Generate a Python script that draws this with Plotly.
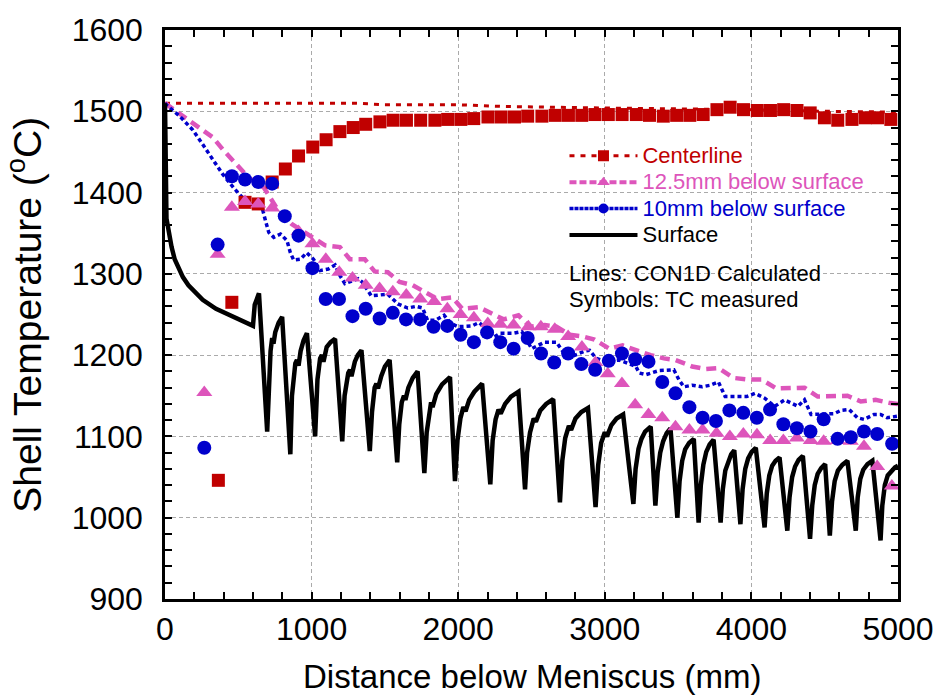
import plotly.graph_objects as go

# ---------------- data ----------------
# CON1D calculated centreline
cl_x = [0, 500, 1000, 1300, 1500, 2000, 2300, 2600, 3000, 3500, 4000, 4500, 5000]
cl_t = [1510, 1510, 1510, 1510, 1508, 1508, 1506, 1505, 1504, 1503, 1502, 1500, 1499]

# CON1D calculated 12.5 mm below surface
p_x = [0, 111, 217, 325, 404, 499, 573, 675, 776, 866, 1001, 1092, 1193, 1261, 1363, 1430, 1520,
       1600, 1690, 1769, 1859, 1960, 2028, 2141, 2219, 2310, 2411, 2490, 2591, 2670, 2761, 2851,
       2930, 3031, 3122, 3212, 3313, 3403, 3483, 3596, 3686, 3775, 3877, 3978, 4069, 4170, 4272,
       4362, 4452, 4554, 4655, 4746, 4847, 4948, 5000]
p_t = [1510, 1496, 1483, 1468, 1451, 1433, 1418, 1406, 1377, 1361, 1345, 1335, 1333, 1318, 1318,
       1303, 1302, 1290, 1286, 1278, 1269, 1271, 1257, 1259, 1252, 1244, 1249, 1235, 1237, 1235,
       1225, 1223, 1219, 1208, 1212, 1206, 1200, 1196, 1194, 1186, 1183, 1184, 1172, 1170, 1170,
       1159, 1159, 1160, 1149, 1149, 1150, 1143, 1145, 1141, 1140]

# CON1D calculated 10 mm below surface
b_x = [0, 9, 100, 190, 258, 325, 392, 472, 528, 596, 663, 686, 708, 742, 788, 832, 855, 878, 923,
       967, 1013, 1058, 1114, 1160, 1193, 1227, 1317, 1345, 1407, 1464, 1520, 1588, 1656, 1712,
       1757, 1791, 1847, 1904, 1949, 2000, 2095, 2141, 2197, 2242, 2287, 2378, 2434, 2501, 2591,
       2670, 2716, 2772, 2862, 2896, 2941, 3009, 3099, 3212, 3235, 3280, 3370, 3471, 3505, 3539,
       3596, 3663, 3720, 3775, 3821, 3889, 3968, 4024, 4091, 4159, 4227, 4317, 4362, 4407, 4475,
       4565, 4610, 4667, 4723, 4768, 4836, 4881, 4926, 5000]
b_t = [1510, 1508, 1494, 1477, 1459, 1440, 1423, 1405, 1394, 1385, 1381, 1365, 1351, 1345, 1349,
       1341, 1326, 1317, 1318, 1326, 1318, 1304, 1306, 1311, 1298, 1288, 1294, 1290, 1273, 1274,
       1275, 1263, 1258, 1260, 1258, 1243, 1243, 1249, 1239, 1235, 1236, 1240, 1232, 1222, 1227,
       1227, 1229, 1208, 1216, 1216, 1204, 1198, 1205, 1206, 1196, 1192, 1194, 1186, 1178, 1176,
       1181, 1182, 1170, 1161, 1163, 1161, 1163, 1167, 1149, 1149, 1149, 1153, 1147, 1137, 1145,
       1137, 1145, 1127, 1127, 1128, 1132, 1133, 1123, 1121, 1127, 1127, 1123, 1125]

# CON1D calculated surface
s_x = [0, 3, 6, 10, 20, 32, 45, 66, 90, 122, 160, 190, 257, 348, 438, 517, 600,
       612, 628, 641,
       697, 708, 720, 731, 740, 752, 775, 799,
       855, 866, 878, 889, 900, 911, 925, 945, 968,
       1024, 1040, 1058, 1070, 1081, 1103, 1130, 1160,
       1209, 1225, 1250, 1262, 1272, 1295, 1315, 1340,
       1397, 1412, 1430, 1442, 1453, 1475, 1500, 1532,
       1584, 1598, 1615, 1630, 1640, 1660, 1690, 1723,
       1769, 1785, 1802, 1815, 1825, 1850, 1890, 1944,
       1978, 1995, 2015, 2035, 2050, 2075, 2110, 2163,
       2219, 2235, 2255, 2275, 2290, 2320, 2360, 2411,
       2456, 2470, 2490, 2515, 2530, 2560, 2600, 2648,
       2694, 2710, 2730, 2755, 2770, 2800, 2840, 2885,
       2937, 2955, 2975, 3000, 3015, 3045, 3080, 3125,
       3195, 3210, 3230, 3250, 3275, 3313,
       3345, 3360, 3378, 3398, 3422, 3448,
       3495, 3510, 3528, 3548, 3575, 3607,
       3640, 3655, 3672, 3692, 3715, 3742,
       3790, 3805, 3822, 3842, 3862, 3883,
       3925, 3940, 3958, 3978, 4002, 4030,
       4090, 4105, 4122, 4142, 4165, 4192,
       4245, 4260, 4278, 4298, 4322, 4351,
       4400, 4415, 4432, 4452, 4476, 4503,
       4535, 4550, 4568, 4590, 4620, 4655,
       4712, 4725, 4743, 4763, 4792, 4825,
       4881, 4893, 4910, 4930, 4955, 4980, 5000]
s_t = [1510, 1450, 1385, 1368, 1358, 1345, 1333, 1318, 1307, 1296, 1286, 1280, 1268, 1257, 1249, 1242, 1236,
       1262, 1270, 1276,
       1106, 1175, 1205, 1221, 1214, 1228, 1240, 1247,
       1078, 1150, 1178, 1190, 1194, 1187, 1205, 1218, 1227,
       1100, 1170, 1196, 1200, 1192, 1210, 1216, 1220,
       1094, 1150, 1178, 1182, 1174, 1192, 1200, 1206,
       1082, 1130, 1160, 1165, 1159, 1174, 1186, 1194,
       1068, 1115, 1142, 1150, 1145, 1160, 1172, 1180,
       1055, 1105, 1131, 1142, 1136, 1152, 1164, 1173,
       1045, 1095, 1122, 1136, 1131, 1145, 1155, 1165,
       1041, 1095, 1121, 1133, 1128, 1140, 1149, 1155,
       1035, 1080, 1105, 1122, 1118, 1132, 1140, 1146,
       1019, 1070, 1098, 1113, 1108, 1122, 1130, 1135,
       1013, 1065, 1092, 1105, 1100, 1114, 1122, 1127,
       1017, 1060, 1085, 1097, 1106, 1112,
       1015, 1055, 1080, 1094, 1104, 1110,
       1000, 1045, 1070, 1084, 1092, 1097,
       994, 1040, 1065, 1081, 1090, 1096,
       994, 1035, 1058, 1070, 1078, 1083,
       992, 1035, 1060, 1073, 1081, 1086,
       988, 1030, 1052, 1064, 1070, 1074,
       984, 1025, 1050, 1063, 1071, 1076,
       974, 1015, 1040, 1054, 1061, 1066,
       978, 1020, 1045, 1058, 1065, 1070,
       984, 1025, 1048, 1059, 1066, 1070,
       972, 1015, 1040, 1052, 1058, 1062, 1064]

# TC measured: centreline (squares)
sq_x = [364, 456, 546, 636, 731, 821, 911, 1008, 1099, 1193, 1284, 1369, 1466, 1556, 1647, 1744,
        1841, 1928, 2018, 2106, 2203, 2293, 2384, 2474, 2571, 2662, 2752, 2843, 2933, 3024, 3118,
        3215, 3305, 3399, 3490, 3580, 3671, 3765, 3855, 3946, 4040, 4130, 4220, 4311, 4401, 4498,
        4589, 4686, 4776, 4860, 4951]
sq_t = [1046, 1265, 1388, 1386, 1413, 1429, 1445, 1456, 1465, 1475, 1480, 1484, 1487, 1489, 1489,
        1489, 1489, 1490, 1490, 1491, 1493, 1493, 1493, 1494, 1494, 1495, 1495, 1495, 1496, 1496,
        1496, 1496, 1495, 1494, 1495, 1495, 1496, 1502, 1505, 1502, 1501, 1501, 1502, 1501, 1498,
        1492, 1489, 1490, 1492, 1492, 1490]

# TC measured: 12.5 mm below surface (triangles)
tr_x = [268, 359, 456, 546, 636, 731, 911, 1006, 1097, 1189, 1279, 1369, 1464, 1554, 1646, 1741,
        1836, 1926, 2016, 2107, 2202, 2287, 2378, 2479, 2564, 2659, 2750, 2844, 2936, 3020, 3117,
        3207, 3298, 3392, 3482, 3577, 3667, 3762, 3853, 3945, 4038, 4128, 4218, 4310, 4405, 4493,
        4588, 4678, 4768, 4858, 4958]
tr_t = [1154, 1324, 1382, 1389, 1386, 1381, 1352, 1337, 1318, 1302, 1295, 1286, 1282, 1278, 1274,
        1269, 1266, 1257, 1250, 1246, 1239, 1238, 1237, 1235, 1235, 1232, 1223, 1210, 1191, 1177,
        1165, 1139, 1127, 1123, 1112, 1108, 1108, 1104, 1100, 1103, 1102, 1095, 1095, 1098, 1095,
        1094, 1095, 1094, 1088, 1063, 1039]

# TC measured: 10 mm below surface (circles)
ci_x = [268, 359, 456, 546, 636, 731, 817, 911, 1006, 1096, 1187, 1279, 1369, 1464, 1554, 1644,
        1741, 1832, 1926, 2016, 2107, 2197, 2287, 2378, 2474, 2565, 2655, 2750, 2840, 2934, 3027,
        3117, 3207, 3298, 3392, 3482, 3577, 3667, 3758, 3850, 3945, 4037, 4127, 4218, 4310, 4403,
        4493, 4588, 4678, 4768, 4858, 4960]
ci_t = [1086, 1336, 1420, 1416, 1413, 1411, 1371, 1347, 1307, 1269, 1269, 1248, 1257, 1245, 1252,
        1244, 1244, 1235, 1236, 1225, 1216, 1228, 1216, 1208, 1221, 1202, 1191, 1202, 1189, 1182,
        1193, 1202, 1195, 1192, 1167, 1153, 1136, 1123, 1119, 1132, 1129, 1123, 1133, 1115, 1110,
        1106, 1121, 1097, 1099, 1106, 1103, 1091]

x_ticks = [0, 1000, 2000, 3000, 4000, 5000]
y_ticks = [900, 1000, 1100, 1200, 1300, 1400, 1500, 1600]

RED = "#C00000"
PINK = "#DD55BB"
BLUE = "#0000CC"
BLACK = "#000000"
FONT = "Liberation Sans, Arial, sans-serif"

fig = go.Figure()

# calculated lines
fig.add_trace(go.Scatter(x=cl_x, y=cl_t, mode="lines", showlegend=False,
                         line=dict(color=RED, width=3, dash="5px,6px")))
fig.add_trace(go.Scatter(x=p_x, y=p_t, mode="lines", showlegend=False,
                         line=dict(color=PINK, width=4.5, dash="10px,6px")))
fig.add_trace(go.Scatter(x=b_x, y=b_t, mode="lines", showlegend=False,
                         line=dict(color=BLUE, width=3.5, dash="4px,3px")))
fig.add_trace(go.Scatter(x=s_x, y=s_t, mode="lines", showlegend=False,
                         line=dict(color=BLACK, width=4.5)))

# measured symbols
fig.add_trace(go.Scatter(x=sq_x, y=sq_t, mode="markers", showlegend=False,
                         marker=dict(symbol="square", size=13, color=RED)))
fig.add_trace(go.Scatter(x=tr_x, y=tr_t, mode="markers", showlegend=False,
                         marker=dict(symbol="triangle-up", size=14, color=PINK)))
fig.add_trace(go.Scatter(x=ci_x, y=ci_t, mode="markers", showlegend=False,
                         marker=dict(symbol="circle", size=14, color=BLUE)))

# legend entries
def lname(txt, col):
    return f"<span style='color:{col};font-size:22px'>{txt}</span>"

fig.add_trace(go.Scatter(x=[None], y=[None], mode="lines+markers",
                         name=lname("Centerline", RED),
                         line=dict(color=RED, width=3, dash="5px,6px"),
                         marker=dict(symbol="square", size=11, color=RED)))
fig.add_trace(go.Scatter(x=[None], y=[None], mode="lines+markers",
                         name=lname("12.5mm below surface", PINK),
                         line=dict(color=PINK, width=4, dash="7px,3px"),
                         marker=dict(symbol="triangle-up", size=11, color=PINK)))
fig.add_trace(go.Scatter(x=[None], y=[None], mode="lines+markers",
                         name=lname("10mm below surface", BLUE),
                         line=dict(color=BLUE, width=3.5, dash="4px,1px"),
                         marker=dict(symbol="circle", size=10, color=BLUE)))
fig.add_trace(go.Scatter(x=[None], y=[None], mode="lines", name=lname("Surface", BLACK),
                         line=dict(color=BLACK, width=4)))

axis_common = dict(
    showline=True, linecolor="black", linewidth=2.5, mirror="allticks",
    ticks="inside", ticklen=7, tickwidth=2, tickcolor="black",
    showgrid=True, gridcolor="#AAAAAA", gridwidth=1, griddash="4px,3px",
    zeroline=False, tickfont=dict(family=FONT, size=32, color="black"),
)

fig.update_xaxes(range=[0, 5000], tickvals=x_ticks, ticktext=[str(v) for v in x_ticks],
                 minor=dict(dtick=200, ticks="inside", ticklen=7, tickwidth=2, tickcolor="black",
                            showgrid=False),
                 **axis_common)
fig.update_yaxes(range=[900, 1600], tickvals=y_ticks, ticktext=[str(v) for v in y_ticks],
                 ticklabelstandoff=13,
                 minor=dict(dtick=20, ticks="inside", ticklen=7, tickwidth=2, tickcolor="black",
                            showgrid=False),
                 **axis_common)

fig.add_annotation(xref="paper", yref="paper", x=0.5, y=-0.137, yanchor="middle",
                   text="Distance below Meniscus (mm)", showarrow=False,
                   font=dict(family=FONT, size=33, color="black"))
fig.add_annotation(xref="paper", yref="paper", x=-0.192, y=0.5, xanchor="center",
                   text="Shell Temperature (<sup>o</sup>C)", textangle=-90, showarrow=False,
                   font=dict(family=FONT, size=39, color="black"))
fig.add_annotation(xref="paper", yref="paper", x=0.549, y=0.5727, xanchor="left", yanchor="middle",
                   align="left", text="Lines: CON1D Calculated",
                   showarrow=False, font=dict(family=FONT, size=22, color="black"))
fig.add_annotation(xref="paper", yref="paper", x=0.549, y=0.527, xanchor="left", yanchor="middle",
                   align="left", text="Symbols: TC measured",
                   showarrow=False, font=dict(family=FONT, size=22, color="black"))

fig.update_layout(
    width=946, height=698,
    margin=dict(l=165, r=41, t=28, b=99),
    paper_bgcolor="white", plot_bgcolor="white",
    legend=dict(x=0.545, y=0.811, xanchor="left", yanchor="top",
                bgcolor="rgba(0,0,0,0)", font=dict(family=FONT, size=18, color="black"),
                itemwidth=68, tracegroupgap=0),
)

fig.write_html("out.html")
